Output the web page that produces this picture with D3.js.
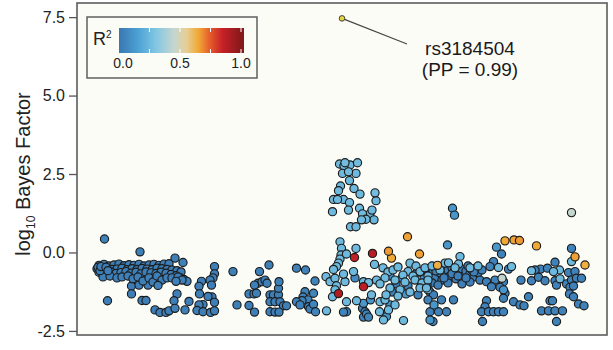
<!DOCTYPE html>
<html><head><meta charset="utf-8">
<script src="https://cdn.jsdelivr.net/npm/d3@7"></script>
<style>html,body{margin:0;padding:0;background:#fff;} svg{display:block;font-family:"Liberation Sans",Arial,Helvetica,sans-serif;}</style>
</head><body><svg id="chart" width="613" height="350"></svg>
<script>
// ---- axis / legend definitions ----
const yTicks = [-2.5, 0, 2.5, 5, 7.5];
const legendLabels = [0, 0.5, 1];
const legendMarks = [0.25, 0.5, 0.75, 1];
const r2Stops = [0, 0.15, 0.3, 0.45, 0.55, 0.65, 0.75, 0.85, 1];
const r2Colors = ["#3b77b1", "#4a9fd3", "#80c6e3", "#c5d6cf", "#e6cf98", "#f1a936", "#e4582b", "#c52026", "#86191c"];

// ---- data: [position (kb), log10 Bayes factor, r2] ----
const leadSnp = [[530, 7.46]];
const leadLabel = ["rs3184504", "(PP = 0.99)"];

const leftBlock = [
 [55,0.43,0.04],[126,0.02,0.03],[196,-0.18,0.03],[212,-0.32,0.04],[61,-1.54,0.03],[109,-1.32,0.03],[109,-1.07,0.02],
 [124,-1.04,0.03],[142,-1.04,0.03],[162,-1.05,0.04],[130,-1.53,0.03],[138,-1.53,0.03],[156,-1.83,0.02],[166,-1.91,0.03],
 [178,-1.91,0.03],[184,-1.86,0.03],[196,-1.78,0.04],[200,-1.32,0.03],[194,-1.54,0.03],[216,-1.83,0.03],[224,-1.56,0.03],[198,-0.92,0.04],
 [44,-0.41,0.03],[54,-0.38,0.03],[64,-0.43,0.03],[74,-0.40,0.03],[84,-0.37,0.03],[94,-0.42,0.03],[104,-0.39,0.03],[114,-0.41,0.03],
 [124,-0.38,0.03],[134,-0.43,0.03],[144,-0.40,0.03],[154,-0.38,0.03],[164,-0.41,0.03],[174,-0.37,0.03],[184,-0.36,0.03],
 [40,-0.52,0.03],[50,-0.55,0.03],[60,-0.51,0.03],[70,-0.54,0.03],[80,-0.53,0.03],[90,-0.50,0.03],[100,-0.55,0.03],[110,-0.52,0.03],
 [120,-0.54,0.03],[130,-0.51,0.03],[140,-0.53,0.03],[150,-0.55,0.03],[160,-0.50,0.03],[170,-0.52,0.03],[180,-0.54,0.03],[190,-0.56,0.03],
 [200,-0.58,0.03],[208,-0.62,0.03],
 [44,-0.63,0.03],[56,-0.66,0.03],[68,-0.62,0.03],[78,-0.67,0.03],[88,-0.64,0.03],[98,-0.61,0.03],[108,-0.66,0.03],[118,-0.63,0.03],
 [128,-0.68,0.03],[138,-0.62,0.03],[148,-0.65,0.03],[158,-0.67,0.03],[168,-0.63,0.03],[178,-0.66,0.03],[188,-0.70,0.03],[198,-0.74,0.03],
 [206,-0.80,0.03],[214,-0.86,0.03],[220,-0.92,0.03],
 [52,-0.78,0.03],[66,-0.75,0.03],[80,-0.81,0.03],[90,-0.78,0.03],[102,-0.75,0.03],[112,-0.84,0.03],[122,-0.78,0.03],[132,-0.91,0.03],
 [144,-0.81,0.03],[152,-0.94,0.03],[160,-0.75,0.03],[170,-0.88,0.03],[180,-0.81,0.03],[190,-0.81,0.03],[202,-0.78,0.03],[210,-0.88,0.03],
 [42,-0.47,0.03],[46,-0.58,0.03],[48,-0.45,0.03],[58,-0.47,0.03],[62,-0.58,0.03]
];

const midLeftBlock = [
 [275,-0.45,0.03],[275,-0.68,0.03],[272,-0.81,0.03],[266,-0.88,0.03],[249,-0.92,0.03],[244,-1.08,0.03],[269,-1.04,0.03],
 [270,-1.42,0.03],[262,-1.40,0.03],[275,-1.59,0.03],[245,-1.32,0.03],[252,-1.66,0.03],[244,-1.67,0.03],[240,-1.85,0.03],
 [252,-1.89,0.03],[267,-1.91,0.03],[275,-1.86,0.03],[312,-0.61,0.03],[320,-1.67,0.03],[344,-1.69,0.03],[344,-1.32,0.03],
 [354,-1.32,0.03],[355,-1.90,0.03],[365,-0.61,0.03],[362,-0.98,0.03],[355,-1.04,0.03],
 [384,-0.40,0.03],[370,-0.93,0.03],[376,-0.88,0.03],[380,-0.98,0.03],[359,-1.30,0.03],[386,-1.35,0.03],[393,-1.35,0.03],
 [403,-1.35,0.03],[403,-1.14,0.03],[404,-0.93,0.03],[386,-1.57,0.03],[396,-1.57,0.03],[406,-1.57,0.03],[413,-1.70,0.03],
 [419,-1.70,0.03],[386,-1.89,0.03],[396,-1.90,0.03],[404,-1.90,0.03],[439,-0.50,0.04],[457,-0.56,0.04],[456,-1.25,0.04],
 [452,-1.42,0.04],[462,-1.51,0.04],[450,-1.54,0.04],[473,-1.30,0.05],[463,-1.73,0.04],[473,-1.65,0.05],[477,-1.89,0.05],
 [466,-1.80,0.04],[439,-1.57,0.04],[446,-1.67,0.04],[476,-0.91,0.05]
];

const peakCluster = [
 [525,2.82,0.25],[536,2.86,0.26],[546,2.79,0.25],[561,2.86,0.26],[534,2.76,0.25],[531,2.52,0.25],[543,2.57,0.26],[558,2.52,0.25],
 [545,2.29,0.25],[527,2.12,0.24],[523,1.97,0.25],[554,2.04,0.25],[566,1.86,0.25],[596,1.90,0.26],[598,1.65,0.25],[513,1.69,0.25],
 [521,1.69,0.25],[533,1.69,0.24],[545,1.59,0.25],[511,1.30,0.25],[543,1.35,0.25],[565,1.41,0.25],[590,1.35,0.25],[586,1.23,0.24],
 [571,1.23,0.25],[578,1.06,0.25],[569,1.04,0.25],[594,1.04,0.24],[547,0.82,0.25],[558,0.82,0.25]
];

const peakBase = [
 [498,-0.77,0.25],[499,-1.86,0.25],[526,0.34,0.25],[529,0.13,0.25],[528,-0.08,0.25],[526,-0.21,0.25],[523,-0.34,0.25],[519,-0.45,0.25],
 [513,-0.54,0.25],[506,-0.93,0.25],[516,-0.82,0.25],[519,-1.06,0.25],[516,-1.19,0.25],[536,-0.93,0.25],[533,-0.69,0.25],[511,-1.41,0.25],
 [539,-0.05,0.25],[558,0.13,0.25],[595,-0.38,0.25],[553,-0.61,0.25],[573,-0.93,0.25],[583,-0.96,0.25],[599,-0.88,0.25],[559,-1.54,0.25],
 [539,-1.57,0.25],[533,-1.90,0.05],[556,-0.81,0.08],
 [539,-1.89,0.04],[571,-1.78,0.04],[576,-1.89,0.04],[579,-1.96,0.05],[573,-1.62,0.12],[573,-2.06,0.04],[583,-2.06,0.05],
 [589,-1.35,0.25],[587,-1.51,0.12],[606,-1.57,0.25],[616,-1.51,0.25],[626,-1.67,0.12],[623,-1.83,0.25],[636,-1.67,0.25],
 [605,-1.89,0.25],[613,-2.15,0.25],[619,-2.04,0.12],[653,-2.17,0.25],[706,-2.15,0.12]
];

const highLD = [
 [661,0.50,0.66],[623,0.04,0.67],[629,-0.18,0.65],[685,-0.05,0.66],[721,-0.41,0.64],[856,0.37,0.65],[874,0.40,0.66],
 [885,0.38,0.67],[919,0.21,0.65],[996,-0.14,0.66],[1016,-0.40,0.64],
 [591,-0.03,0.88],[555,-0.16,0.86],[573,-1.09,0.87],[523,-1.31,0.9],
 [989,1.27,0.45],[850,-0.82,0.44]
];

const centralBand = [
 [612,-0.49,0.25],[622,-0.62,0.25],[632,-0.56,0.25],[642,-0.46,0.25],[666,-0.34,0.25],[678,-0.43,0.25],[686,-0.61,0.25],
 [662,-0.61,0.25],[652,-0.72,0.25],[672,-0.75,0.25],[696,-0.49,0.25],[616,-0.81,0.25],[636,-0.88,0.25],[656,-0.94,0.25],
 [676,-0.88,0.25],[690,-0.97,0.25],[702,-0.75,0.25],[626,-1.13,0.25],[646,-1.19,0.25],[666,-1.26,0.25],[686,-1.13,0.25],
 [702,-1.19,0.25],[606,-1.00,0.25],[618,-1.35,0.25],[642,-1.39,0.25],
 [626,-0.75,0.12],[638,-1.00,0.04],[650,-0.81,0.12],[662,-1.07,0.04],[678,-0.68,0.04],[694,-0.84,0.12],[630,-1.26,0.04],
 [658,-1.32,0.12],[682,-1.35,0.04],[700,-1.04,0.04],
 [696,-0.56,0.03],[702,-0.72,0.03],[706,-0.49,0.03],[712,-0.62,0.03],[716,-0.81,0.03],[720,-0.49,0.03],[726,-0.65,0.03],
 [730,-0.88,0.03],[734,-0.49,0.03],[738,-0.68,0.03],[742,-0.56,0.03],[746,-0.75,0.03],[750,-0.49,0.03],[754,-0.62,0.03],
 [758,-0.84,0.03],[762,-0.46,0.03],[766,-0.65,0.03],[770,-0.53,0.03],[774,-0.75,0.03],[778,-0.59,0.03],[782,-0.43,0.03],
 [786,-0.68,0.03],[790,-0.56,0.03],[794,-0.78,0.03],[798,-0.49,0.03],[802,-0.65,0.03],[806,-0.88,0.03],[810,-0.56,0.03],
 [710,-0.97,0.03],[722,-1.04,0.03],[742,-0.97,0.03],[770,-1.00,0.03],[786,-0.94,0.03],[819,-0.93,0.03],[718,-0.59,0.03],
 [750,-0.68,0.03],[778,-0.81,0.03],[734,-0.81,0.03],[762,-0.75,0.03],[794,-0.62,0.03],
 [736,-0.34,0.25],[766,-0.13,0.25],[763,-0.37,0.25],[743,-0.33,0.25],[710,-0.43,0.25],[726,-0.56,0.25],[756,-0.49,0.25],
 [786,-0.49,0.25],[802,-0.43,0.25],[702,-0.88,0.25],
 [741,0.24,0.12],[751,1.41,0.12],[755,1.19,0.12],
 [699,-1.13,0.25],[706,-1.26,0.04],[713,-1.35,0.04],[702,-1.51,0.04],[714,-1.67,0.12],[729,-1.51,0.04],[753,-1.51,0.04],
 [706,-1.89,0.04],[723,-1.89,0.04],[739,-1.89,0.04],[712,-2.20,0.04]
];

const rightBlock = [
 [839,0.17,0.12],[849,-0.05,0.04],[833,-0.29,0.04],[843,-0.48,0.25],[826,-0.45,0.04],[869,-0.45,0.25],[863,-0.53,0.04],
 [836,-0.88,0.04],[853,-0.93,0.04],[829,-1.09,0.04],[846,-1.11,0.04],[853,-1.19,0.12],[856,-1.30,0.04],[853,-1.46,0.04],
 [873,-1.57,0.04],[819,-1.54,0.04],[816,-1.73,0.04],[809,-1.89,0.04],[823,-1.89,0.04],[833,-1.89,0.04],[843,-1.89,0.04],
 [853,-1.89,0.04],[811,-2.20,0.03],
 [909,-0.58,0.25],[927,-0.53,0.04],[941,-0.50,0.04],[965,-0.56,0.25],[953,-0.61,0.25],[956,-0.31,0.04],[983,-0.64,0.04],
 [996,-0.61,0.04],[888,-0.88,0.04],[916,-0.56,0.04],[909,-0.90,0.04],[923,-0.79,0.04],[936,-0.90,0.04],[956,-0.90,0.04],
 [966,-0.84,0.25],[979,-1.00,0.04],[989,-0.88,0.04],[999,-0.82,0.04],[1009,-0.82,0.04],[959,-1.04,0.04],[986,-1.11,0.04],
 [993,-1.07,0.04],[985,-1.32,0.04],[993,-1.41,0.04],[903,-1.41,0.04],[886,-1.67,0.04],[894,-1.70,0.04],[946,-1.54,0.04],
 [951,-1.54,0.04],[1003,-1.64,0.04],[1014,-1.70,0.04],[929,-1.86,0.04],[943,-1.86,0.04],[956,-1.86,0.04],[971,-1.86,0.04],
 [959,-2.20,0.04],[989,0.13,0.04],[989,-0.29,0.25]
];

// ---- chart ----
const svg = d3.select("#chart");
const x = d3.scaleLinear().domain([0, 1060]).range([77, 607]);
const y = d3.scaleLinear().domain([-2.63, 7.95]).range([335, 3]);
const color = d3.scaleLinear().domain(r2Stops).range(r2Colors).clamp(true);

// panel
svg.append("rect")
  .attr("x", x(0)).attr("y", y(7.95))
  .attr("width", x(1060) - x(0)).attr("height", y(-2.63) - y(7.95))
  .attr("fill", "#fcfcf6").attr("stroke", "#5c5c5c").attr("stroke-width", 1.6);

// y axis
const yAxis = svg.append("g").attr("transform", `translate(${x(0)},0)`)
  .call(d3.axisLeft(y).tickValues(yTicks).tickFormat(d => d.toFixed(1)).tickSize(8).tickPadding(4));
yAxis.select(".domain").remove();
yAxis.selectAll(".tick line").attr("stroke", "#555").attr("stroke-width", 1.3);
yAxis.selectAll(".tick text").attr("fill", "#222").style("font-size", "16px")
  .style("font-family", '"Liberation Sans", Arial, sans-serif');

// y label
const yl = svg.append("text")
  .attr("transform", "translate(30,174) rotate(-90)")
  .attr("text-anchor", "middle").attr("fill", "#222").style("font-size", "20px");
yl.append("tspan").text("log");
yl.append("tspan").attr("dy", 5).style("font-size", "12px").text("10");
yl.append("tspan").attr("dy", -5).text(" Bayes Factor");

// points
const allPoints = [].concat(leftBlock, midLeftBlock, peakCluster, peakBase, centralBand, rightBlock, highLD)
  .sort((a, b) => a[2] - b[2]);
svg.append("g").selectAll("circle").data(allPoints).join("circle")
  .attr("cx", d => x(d[0])).attr("cy", d => y(d[1])).attr("r", 4.1)
  .attr("fill", d => color(d[2])).attr("stroke", "#1c1c1c").attr("stroke-width", 1.15);

// lead SNP + annotation
const lead = leadSnp[0];
svg.append("line")
  .attr("x1", x(lead[0])).attr("y1", y(lead[1]))
  .attr("x2", 407).attr("y2", 44)
  .attr("stroke", "#444").attr("stroke-width", 1.1);
svg.append("circle")
  .attr("cx", x(lead[0])).attr("cy", y(lead[1])).attr("r", 2.8)
  .attr("fill", "#e2d53c").attr("stroke", "#333").attr("stroke-width", 0.9);
svg.append("g").selectAll("text").data(leadLabel).join("text")
  .attr("x", 470).attr("y", (d, i) => 55 + i * 21)
  .attr("text-anchor", "middle").attr("fill", "#1a1a1a").style("font-size", "19px")
  .text(d => d);

// legend
const lg = svg.append("g");
lg.append("rect").attr("x", 87).attr("y", 17).attr("width", 170).attr("height", 61)
  .attr("fill", "#fcfcf6").attr("stroke", "#555").attr("stroke-width", 1.4);
const rt = lg.append("text").attr("x", 93).attr("y", 45).attr("fill", "#222").style("font-size", "18px");
rt.append("tspan").text("R");
rt.append("tspan").attr("dy", -7).style("font-size", "10px").text("2");

const lx = d3.scaleLinear().domain([0, 1]).range([119, 241]);
const grad = svg.append("defs").append("linearGradient").attr("id", "r2grad")
  .attr("gradientUnits", "userSpaceOnUse").attr("x1", lx(0)).attr("x2", lx(1)).attr("y1", 0).attr("y2", 0);
grad.selectAll("stop").data(r2Stops).join("stop")
  .attr("offset", d => d).attr("stop-color", (d, i) => r2Colors[i]);
lg.append("rect").attr("x", 119).attr("y", 28).attr("width", 125).attr("height", 25)
  .attr("fill", "url(#r2grad)");
lg.selectAll("line.tk1").data(legendMarks).join("line").attr("class", "tk1")
  .attr("x1", d => lx(d)).attr("x2", d => lx(d)).attr("y1", 28).attr("y2", 32)
  .attr("stroke", "#fff").attr("stroke-width", 1);
lg.selectAll("line.tk2").data(legendMarks).join("line").attr("class", "tk2")
  .attr("x1", d => lx(d)).attr("x2", d => lx(d)).attr("y1", 49).attr("y2", 53)
  .attr("stroke", "#fff").attr("stroke-width", 1);
lg.selectAll("text.lab").data(legendLabels).join("text").attr("class", "lab")
  .attr("x", d => lx(d) + (d === 0 ? 4 : 0)).attr("y", 68)
  .attr("text-anchor", "middle").attr("fill", "#222").style("font-size", "14px")
  .text(d => d.toFixed(1));
</script>
</body></html>
